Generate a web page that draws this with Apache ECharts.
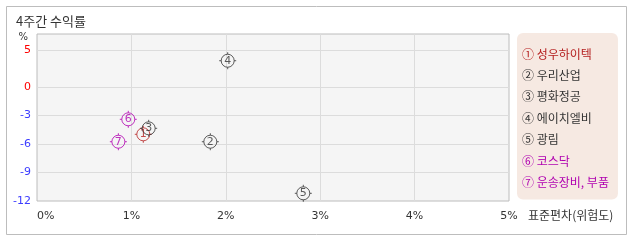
<!DOCTYPE html>
<html><head><meta charset="utf-8">
<script src="https://cdn.jsdelivr.net/npm/echarts@6/dist/echarts.min.js"></script>
<style>html,body{margin:0;padding:0;background:#fff}#c{width:638px;height:242px}</style>
</head><body><div id="c"></div>
<script>
// data
const names = ['성우하이텍','우리산업','평화정공','에이치엘비','광림','코스닥','운송장비, 부품'];
const marks = ['①','②','③','④','⑤','⑥','⑦'];
const stdDev = [1.126, 1.836, 1.183, 2.02, 2.821, 0.967, 0.862];   // x, %
const ret4w  = [-4.98, -5.76, -4.35, 3.55, -11.19, -3.40, -5.76];  // y, %
const colors = ['#b52020','#333333','#333333','#333333','#333333','#b000b0','#b000b0'];
const xTicks = [0,1,2,3,4,5];
const yUpperTicks = [0,5];
const yLowerTicks = [-12,-9,-6,-3];
const xName = '표준편차(위험도)';

const FONT = '"Noto Sans CJK KR", "Noto Sans", sans-serif';
const L = 37, R = 129, TOP = 34, BOT = 41, MID = 87;
const symbolPath = 'path://M8.5 0V2M8.5 15V17M0 8.5H2M15 8.5H17M2 8.5A6.5 6.5 0 1 1 15 8.5A6.5 6.5 0 1 1 2 8.5Z';

const chart = echarts.init(document.getElementById('c'), null, {renderer:'canvas'});

const xBase = {min:0, max:5, interval:1, axisTick:{show:false}, axisLine:{show:false}};
const series = names.map((n,i)=>{
  const upper = ret4w[i] >= 0;
  return {
    name:n, type:'scatter',
    xAxisIndex: upper?1:2, yAxisIndex: upper?1:2,
    data:[[stdDev[i], ret4w[i]]],
    symbol: symbolPath, symbolSize:17,
    itemStyle:{color:'rgba(0,0,0,0)', borderColor:colors[i], borderWidth:1},
    label:{show:true, position:'inside', formatter:String(i+1), color:colors[i], fontSize:11, fontFamily:'"DejaVu Sans", sans-serif'},
    emphasis:{disabled:true}, z:3+i
  };
});

chart.setOption({
  animation:false,
  backgroundColor:'#fff',
  textStyle:{fontFamily:FONT},
  title:[
    {text:'4주간 수익률', left:16, top:15, padding:0, textStyle:{fontSize:13, fontWeight:'normal', color:'#333', fontFamily:FONT}},
    {text:xName, left:528, top:209, padding:0, textStyle:{fontSize:12, fontWeight:'normal', color:'#333', fontFamily:FONT}}
  ],
  graphic:[{type:'rect', shape:{x:6.5,y:6.5,width:620,height:228}, style:{fill:'none', stroke:'#bdbdbd', lineWidth:1}, silent:true, z:-10}],
  grid:[
    {left:L, right:R, top:TOP, bottom:BOT, show:true, backgroundColor:'#f5f5f5', borderColor:'#bcbcbc', borderWidth:1, z:0},
    {left:L, right:R, top:TOP, height:MID-TOP},
    {left:L, right:R, top:MID, bottom:BOT}
  ],
  xAxis:[
    Object.assign({gridIndex:0, show:false}, xBase),
    Object.assign({gridIndex:1, axisLabel:{show:false}, splitLine:{show:true, showMinLine:false, showMaxLine:false, lineStyle:{color:'#dcdcdc'}}}, xBase),
    Object.assign({gridIndex:2,
      axisLabel:{show:true, margin:10, fontSize:11, color:'#333', fontFamily:'"DejaVu Sans", sans-serif',
        formatter:v=>xTicks.includes(v)? v+'%':'', alignMinLabel:'left'},
      splitLine:{show:true, showMinLine:false, showMaxLine:false, lineStyle:{color:'#dcdcdc'}}}, xBase)
  ],
  yAxis:[
    {gridIndex:0, show:false, min:-12, max:0},
    {gridIndex:1, min:0, max:(MID-TOP)/7.4, interval:5, axisTick:{show:false}, axisLine:{show:false},
      name:'%', nameLocation:'end', nameGap:-3, nameMoveOverlap:false,
      nameTextStyle:{fontSize:10, color:'#333', align:'right', verticalAlign:'middle', padding:[0,9,0,0], fontFamily:'"DejaVu Sans", sans-serif'},
      axisLabel:{margin:6, fontSize:11, color:'#ff0000', showMaxLabel:false, fontFamily:'"DejaVu Sans", sans-serif',
        formatter:v=>yUpperTicks.includes(v)? String(v):''},
      splitLine:{show:true, showMaxLine:false, lineStyle:{color:'#dcdcdc'}}},
    {gridIndex:2, min:-12, max:0, interval:3, axisTick:{show:false}, axisLine:{show:false},
      axisLabel:{margin:6, fontSize:11, color:'#3c3cff', showMaxLabel:false, fontFamily:'"DejaVu Sans", sans-serif',
        formatter:v=>yLowerTicks.includes(v)? String(v):''},
      splitLine:{show:true, showMinLine:false, lineStyle:{color:'#dcdcdc'}}}
  ],
  legend:{
    orient:'vertical', left:517, top:33, padding:[14,9,10,0],
    backgroundColor:'#f6e9e2', borderRadius:6,
    icon:'none', itemWidth:0, itemHeight:14, itemGap:7.4,
    selectedMode:false,
    formatter:n=>marks[names.indexOf(n)]+' '+n,
    textStyle:{fontSize:12, lineHeight:14, fontFamily:FONT},
    data:names.map((n,i)=>({name:n, textStyle:{color:colors[i]}}))
  },
  series
});
</script></body></html>
